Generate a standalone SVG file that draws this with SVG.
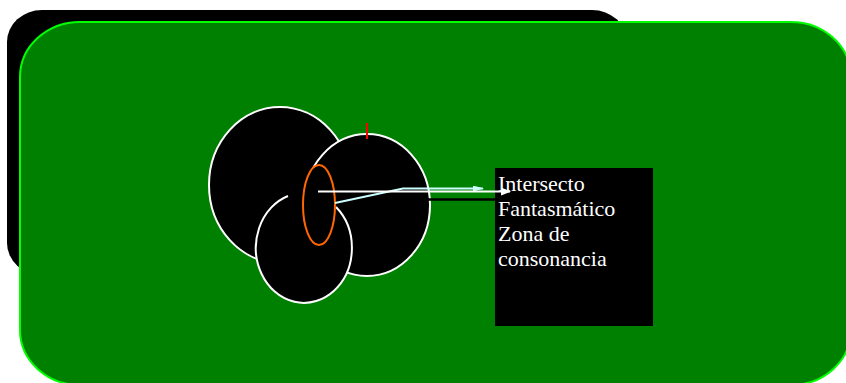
<svg xmlns="http://www.w3.org/2000/svg" width="846" height="383" viewBox="0 0 846 383">
<defs>
<style>
.blob{fill:#000;stroke:#fff;stroke-width:2}
.lbl{font-family:"Liberation Serif","Times New Roman",serif;font-size:22px;fill:#fff}
</style>
<marker id="ahW" markerWidth="10" markerHeight="8" refX="9" refY="4" orient="auto" markerUnits="userSpaceOnUse">
<path d="M0,0 L10,4 L0,8 Z" fill="#fff"/>
</marker>
<marker id="ahC" markerWidth="11" markerHeight="6" refX="10" refY="3" orient="auto" markerUnits="userSpaceOnUse">
<path d="M0,0 L11,3 L0,6 Z" fill="#ccffff"/>
</marker>
</defs>
<rect width="846" height="383" fill="#fff"/>
<g id="back-panel">
<rect x="7" y="10" width="620" height="265" rx="35" ry="32" fill="#000"/>
</g>
<g id="green-panel">
<rect x="20" y="22" width="831" height="363" rx="60" ry="55" fill="#008000" stroke="#00ff00" stroke-width="2"/>
</g>
<g id="ellipse-1">
<ellipse class="blob" cx="280" cy="185" rx="71" ry="78"/>
</g>
<g id="ellipse-2">
<ellipse class="blob" cx="367" cy="205" rx="63" ry="71"/>
</g>
<g id="ellipse-3">
<ellipse cx="304" cy="248" rx="48" ry="55" fill="#000"/>
<path d="M288,196 A48,55 0 1 0 336,207" fill="none" stroke="#fff" stroke-width="2"/>
</g>
<g id="intersect">
<ellipse cx="319" cy="205" rx="16" ry="40" fill="#000" stroke="#ff6600" stroke-width="2"/>
</g>
<g id="tick">
<line x1="367" y1="123" x2="367" y2="139" stroke="#ff0000" stroke-width="2"/>
</g>
<g id="label-box">
<rect x="495" y="168" width="158" height="158" fill="#000"/>
<text class="lbl" x="498" y="191">Intersecto</text>
<text class="lbl" x="498" y="216">Fantasmático</text>
<text class="lbl" x="498" y="241">Zona de</text>
<text class="lbl" x="498" y="266">consonancia</text>
</g>
<g id="connectors" fill="none" stroke-width="2">
<polyline points="335,203 403,188.5 483,188.5" stroke="#ccffff" marker-end="url(#ahC)"/>
<line x1="428" y1="199.5" x2="496" y2="199.5" stroke="#000" stroke-width="2.5"/>
<line x1="318" y1="191.5" x2="510" y2="191.5" stroke="#fff" marker-end="url(#ahW)"/>
</g>
</svg>
